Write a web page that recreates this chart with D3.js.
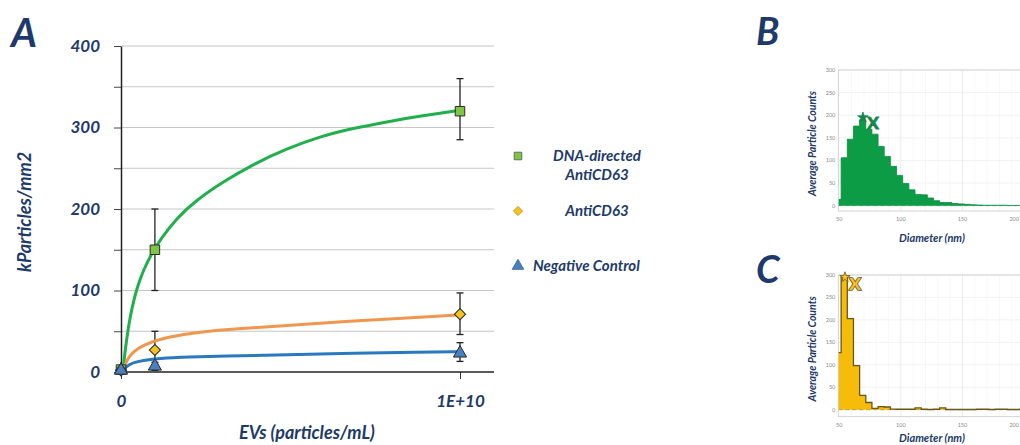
<!DOCTYPE html>
<html>
<head>
<meta charset="utf-8">
<script src="https://cdn.jsdelivr.net/npm/d3@7"></script>
<style>
  body { margin: 0; background: #fff; }
  text { font-family: Lato, "Open Sans", sans-serif; }
</style>
</head>
<body>
<div id="chart"></div>
<script>
// ---- panel A data (x in particles/mL) ----
const evConc = [0, 1e9, 1e10];
const dnaVals = [3, 150, 320];
const dnaLow = [0, 100, 285];
const dnaHigh = [12, 200, 360];
const antiVals = [2, 27, 71];
const antiLow = [0, 5, 46];
const antiHigh = [8, 50, 97];
const negVals = [2, 7, 23];
const negLow = [0, 2, 13];
const negHigh = [5, 12, 36];

// trend lines (x in 1e9 particles/mL)
const dnaFitX = [0.06, 0.12, 0.22, 0.32, 0.46, 0.66, 0.9, 1.15, 1.64, 2.23, 3.0, 3.9, 4.89, 5.87, 6.85, 7.84, 8.82, 10];
const dnaFitY = [2, 26, 56, 78, 102, 125, 145, 162, 189, 211, 233, 255, 274, 289, 299, 307, 314, 321];
const antiFitX = [0.06, 0.17, 0.36, 0.66, 1.15, 2.13, 3.0, 4.89, 6.85, 8.82, 10];
const antiFitY = [2, 15, 25, 33, 41, 48, 52, 57, 63, 67, 70];
const negFitX = [0.06, 0.22, 0.46, 1.15, 2.0, 3.0, 4.89, 6.85, 8.82, 10];
const negFitY = [2, 9, 13, 17, 18.5, 19.5, 21, 23, 24.5, 25];

const yTicksA = [0, 50, 100, 150, 200, 250, 300, 350, 400];
const xTicksA = [0, 1e10];
const xTickLabelsA = ["0", "1E+10"];
const legendNames = [["DNA-directed", "AntiCD63"], ["AntiCD63"], ["Negative Control"]];

// ---- panels B / C histogram data ----
const binEdges = [46.5, 51.5, 56.5, 61.5, 66.5, 71.5, 76.5, 81.5, 86.5, 91.5, 96.5, 101.5, 106.5, 111.5, 116.5, 121.5,
  126.5, 131.5, 136.5, 141.5, 146.5, 151.5, 156.5, 161.5, 166.5, 171.5, 176.5, 181.5, 186.5, 191.5, 196.5, 201.5, 206.5];
const countsB = [14, 106, 147, 176, 190, 169, 158, 131, 109, 87, 67, 49, 35, 25, 24, 17,
  11, 7, 7, 5, 4, 3, 2, 1.5, 1, 1, 1, 1, 0.5, 0.5, 0.5, 0.3];
const countsC = [127, 295, 203, 98, 32, 16, 3, 7, 6, 1.5, 1, 1, 1, 4, 1, 0.5,
  1, 4, 0.5, 0.5, 0.5, 0.5, 0.5, 1, 1, 0.5, 1, 1, 0.5, 0.5, 1, 0.5];
const peakB = [69.2, 195], meanB = [77.3, 182];
const peakC = [54.6, 295], meanC = [62.7, 280];
const hTicksY = [0, 50, 100, 150, 200, 250, 300];
const hTicksX = [50, 100, 150, 200];

const navy = "#1d3a6a";
const W = 1020, H = 445;

const svg = d3.select("#chart").append("svg")
  .attr("width", W)
  .attr("height", H);

// ================= panel A =================
const x = d3.scaleLinear().domain([0, 1e10]).range([121, 460]);
const y = d3.scaleLinear().domain([0, 400]).range([372, 46]);
const plotRight = 494;

svg.append("text")
  .attr("x", 11).attr("y", 47)
  .attr("font-size", 40).attr("font-weight", 700).attr("font-style", "italic")
  .attr("fill", navy).text("A");

// gridlines
svg.append("g")
  .selectAll("line")
  .data(yTicksA.filter(d => d > 0))
  .join("line")
  .attr("x1", x(0)).attr("x2", plotRight)
  .attr("y1", d => y(d)).attr("y2", d => y(d))
  .attr("stroke", "#c6c6c6").attr("stroke-width", 1);

// y axis
const yAxis = svg.append("g")
  .attr("transform", `translate(${x(0)},0)`)
  .call(d3.axisLeft(y).tickValues(yTicksA).tickSize(7).tickSizeOuter(0).tickPadding(14)
    .tickFormat(d => d % 100 === 0 ? d : ""));
yAxis.select(".domain").attr("stroke", "#222").attr("stroke-width", 1.5);
yAxis.selectAll(".tick line").attr("stroke", "#444");
yAxis.selectAll("text")
  .attr("font-size", 17).attr("font-weight", 700).attr("font-style", "italic")
  .attr("fill", navy).style("font-family", "Lato, sans-serif");

// x axis
const xAxis = svg.append("g")
  .attr("transform", `translate(0,${y(0)})`)
  .call(d3.axisBottom(x).tickValues(xTicksA).tickSize(7).tickSizeOuter(0).tickPadding(16)
    .tickFormat((d, i) => xTickLabelsA[i]));
xAxis.select(".domain").remove();
xAxis.selectAll(".tick line").attr("stroke", "#333");
xAxis.selectAll("text")
  .attr("font-size", 17).attr("font-weight", 700).attr("font-style", "italic")
  .attr("fill", navy).style("font-family", "Lato, sans-serif");
svg.append("line")
  .attr("x1", x(0)).attr("x2", plotRight)
  .attr("y1", y(0)).attr("y2", y(0))
  .attr("stroke", "#222").attr("stroke-width", 1.5);

// axis titles
svg.append("text")
  .attr("transform", `translate(31,212) rotate(-90)`)
  .attr("text-anchor", "middle")
  .attr("font-size", 18).attr("font-weight", 700).attr("font-style", "italic")
  .attr("fill", navy).text("kParticles/mm2");
svg.append("text")
  .attr("x", 307).attr("y", 439)
  .attr("text-anchor", "middle")
  .attr("font-size", 18).attr("font-weight", 700).attr("font-style", "italic")
  .attr("fill", navy).text("EVs (particles/mL)");

// diamond drawn as a square turned 45 degrees (wider than d3.symbolDiamond)
const series = [
  {vals: dnaVals, low: dnaLow, high: dnaHigh, fx: dnaFitX, fy: dnaFitY, line: "#1fb04b", fill: "#7ec544", sym: d3.symbolSquare, size: 90, rot: 0},
  {vals: antiVals, low: antiLow, high: antiHigh, fx: antiFitX, fy: antiFitY, line: "#f0964d", fill: "#f6c21c", sym: d3.symbolSquare, size: 62, rot: 45},
  {vals: negVals, low: negLow, high: negHigh, fx: negFitX, fy: negFitY, line: "#2a78c0", fill: "#4a7fc0", sym: d3.symbolTriangle, size: 75, rot: 0}
];

// error bars
series.forEach(s => {
  const eg = svg.append("g").attr("stroke", "#222").attr("stroke-width", 1.3);
  evConc.forEach((c, i) => {
    eg.append("line").attr("x1", x(c)).attr("x2", x(c)).attr("y1", y(s.low[i])).attr("y2", y(s.high[i]));
    if (i > 0) {
      [s.low[i], s.high[i]].forEach(v => {
        eg.append("line").attr("x1", x(c) - 3.5).attr("x2", x(c) + 3.5).attr("y1", y(v)).attr("y2", y(v));
      });
    }
  });
});

// trend lines
const fitLine = d3.line()
  .x(d => x(d[0] * 1e9))
  .y(d => y(d[1]))
  .curve(d3.curveBasis);
series.forEach(s => {
  svg.append("path")
    .datum(s.fx.map((v, i) => [v, s.fy[i]]))
    .attr("fill", "none")
    .attr("stroke", s.line)
    .attr("stroke-width", 3)
    .attr("d", fitLine);
});

// markers
series.forEach(s => {
  svg.append("g")
    .selectAll("path")
    .data(s.vals)
    .join("path")
    .attr("transform", (d, i) => `translate(${x(evConc[i])},${y(d)}) rotate(${s.rot})`)
    .attr("d", d3.symbol().type(s.sym).size(s.size))
    .attr("fill", s.fill)
    .attr("stroke", "#2a2a2a")
    .attr("stroke-width", 1);
});

// legend
const legY = [156, 211, 266];
const legend = svg.append("g");
series.forEach((s, i) => {
  legend.append("path")
    .attr("transform", `translate(518,${legY[i]}) rotate(${s.rot})`)
    .attr("d", d3.symbol().type(s.sym).size(i === 1 ? 42 : 58))
    .attr("fill", s.fill)
    .attr("stroke", i === 2 ? "#3a5f90" : (i === 1 ? "#c98a10" : "#555"))
    .attr("stroke-width", 0.8);
  const names = legendNames[i];
  names.forEach((n, j) => {
    legend.append("text")
      .attr("x", i === 2 ? 533 : 597)
      .attr("y", legY[i] + 5 + j * 19)
      .attr("text-anchor", i === 2 ? "start" : "middle")
      .attr("font-size", 15).attr("font-weight", 700).attr("font-style", "italic")
      .attr("fill", navy).text(n);
  });
});

// ================= panels B / C =================
function drawHist(cfg) {
  const hx = d3.scaleLinear().domain([50, 200]).range([839.3, 1024]);
  const hy = d3.scaleLinear().domain([0, 300]).range([cfg.zero, cfg.top]);
  const left = hx(49.2), right = 1100, top = cfg.top, bottom = cfg.frameBottom;
  const g = svg.append("g");

  g.append("text")
    .attr("x", 756).attr("y", cfg.letterY)
    .attr("font-size", 38).attr("font-weight", 700).attr("font-style", "italic")
    .attr("fill", navy).text(cfg.letter);

  // faint grid
  const minorX = d3.ticks(50, 200, 15).filter(v => v % 50 !== 0);
  g.append("g").selectAll("line").data(minorX).join("line")
    .attr("x1", d => hx(d)).attr("x2", d => hx(d)).attr("y1", top).attr("y2", bottom)
    .attr("stroke", "#f1f1f1").attr("stroke-width", 0.6);
  g.append("g").selectAll("line").data(hTicksX.slice(1)).join("line")
    .attr("x1", d => hx(d)).attr("x2", d => hx(d)).attr("y1", top).attr("y2", bottom)
    .attr("stroke", "#e2e2e2").attr("stroke-width", 0.7);
  g.append("g").selectAll("line").data(hTicksY).join("line")
    .attr("x1", left).attr("x2", right).attr("y1", d => hy(d)).attr("y2", d => hy(d))
    .attr("stroke", "#ececec").attr("stroke-width", 0.7);

  const clipId = "clip" + cfg.letter;
  g.append("clipPath").attr("id", clipId)
    .append("rect").attr("x", left).attr("y", top).attr("width", right - left).attr("height", bottom - top);

  const pts = binEdges.map((e, i) => [e, cfg.counts[Math.min(i, cfg.counts.length - 1)]]);
  const area = d3.area().x(d => hx(d[0])).y0(hy(0)).y1(d => hy(d[1])).curve(d3.curveStepAfter);
  const outline = d3.line().x(d => hx(d[0])).y(d => hy(d[1])).curve(d3.curveStepAfter);
  const hg = g.append("g").attr("clip-path", `url(#${clipId})`);
  hg.append("path").datum(pts).attr("d", area).attr("fill", cfg.fill);
  hg.append("path").datum(pts).attr("d", outline).attr("fill", "none")
    .attr("stroke", cfg.stroke).attr("stroke-width", cfg.strokeW);
  hg.append("line").attr("x1", left).attr("x2", right).attr("y1", hy(0)).attr("y2", hy(0))
    .attr("stroke", cfg.stroke).attr("stroke-width", 0.8).attr("stroke-dasharray", "4,3").attr("opacity", 0.5);

  // frame
  g.append("rect").attr("x", left).attr("y", top).attr("width", right - left).attr("height", bottom - top)
    .attr("fill", "none").attr("stroke", "#c8c8c8").attr("stroke-width", 0.8);

  // peak star and mean X
  g.append("path")
    .attr("transform", `translate(${hx(cfg.peak[0])},${hy(cfg.peak[1])})`)
    .attr("d", d3.symbol().type(d3.symbolStar).size(34))
    .attr("fill", cfg.markFill).attr("stroke", cfg.markStroke).attr("stroke-width", 0.8);
  g.append("text")
    .attr("x", hx(cfg.mean[0])).attr("y", hy(cfg.mean[1]) + 6)
    .attr("text-anchor", "middle")
    .attr("font-size", 17).attr("font-weight", 900)
    .attr("fill", cfg.markFill).attr("stroke", cfg.markStroke).attr("stroke-width", cfg.xStrokeW)
    .style("paint-order", "stroke")
    .text("X");

  // tick labels (the last x label is kept inside the picture's right edge)
  g.append("g").selectAll("text").data(hTicksY).join("text")
    .attr("x", left - 3).attr("y", d => hy(d) + 2)
    .attr("text-anchor", "end")
    .attr("font-size", 5.5).attr("fill", "#8a8a8a").text(d => d);
  g.append("g").selectAll("text").data(hTicksX).join("text")
    .attr("x", d => Math.min(hx(d), W - 1))
    .attr("y", bottom + 10)
    .attr("text-anchor", d => hx(d) > W - 5 ? "end" : "middle")
    .attr("font-size", 5.5).attr("fill", "#8a8a8a").text(d => d);

  // axis titles
  g.append("text")
    .attr("transform", `translate(816,${(top + bottom) / 2 + 3}) rotate(-90)`)
    .attr("text-anchor", "middle")
    .attr("font-size", 10.5).attr("font-weight", 700).attr("font-style", "italic")
    .attr("fill", navy).text("Average Particle Counts");
  g.append("text")
    .attr("x", 932).attr("y", Math.min(bottom + 31, H - 3))
    .attr("text-anchor", "middle")
    .attr("font-size", 11).attr("font-weight", 700).attr("font-style", "italic")
    .attr("fill", navy).text("Diameter  (nm)");
}

drawHist({letter: "B", letterY: 45, top: 70, zero: 205.7, frameBottom: 211, counts: countsB,
  fill: "#0c9c46", stroke: "#0a8a3d", strokeW: 0.8, peak: peakB, mean: meanB,
  markFill: "#14864a", markStroke: "#14864a", xStrokeW: 0.8});
drawHist({letter: "C", letterY: 283, top: 275, zero: 409.7, frameBottom: 416.7, counts: countsC,
  fill: "#f7bc0a", stroke: "#6a5718", strokeW: 1.3, peak: peakC, mean: meanC,
  markFill: "#f7c12a", markStroke: "#6a5718", xStrokeW: 1.6});
</script>
</body>
</html>
